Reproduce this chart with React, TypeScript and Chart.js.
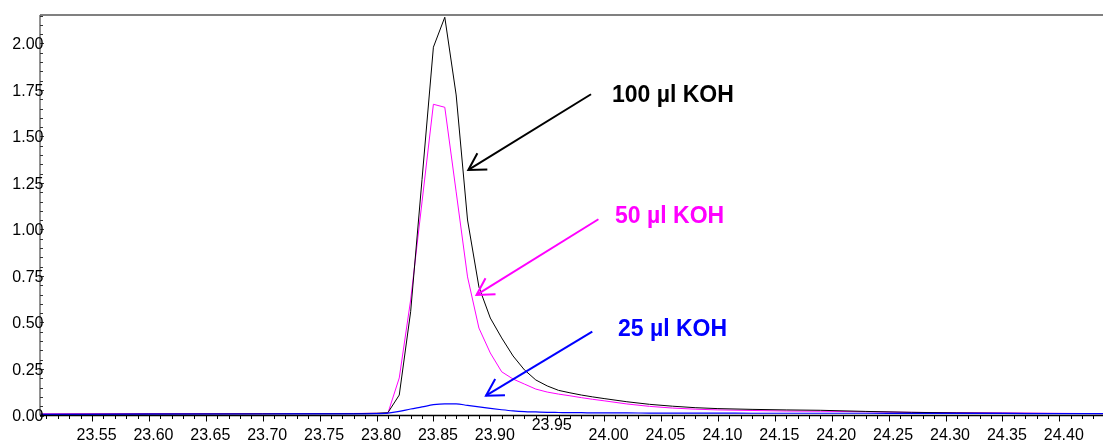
import React, { useEffect, useRef } from "react";
import { Chart, registerables } from "chart.js";

Chart.register(...registerables);

// Retention time (min)
const times = [
  23.5, 23.6, 23.7, 23.78, 23.8, 23.81, 23.82, 23.83, 23.84, 23.85, 23.86, 23.87,
  23.88, 23.89, 23.9, 23.91, 23.92, 23.93, 23.94, 23.95, 23.96, 23.97, 23.98, 23.99,
  24.0, 24.02, 24.04, 24.06, 24.08, 24.1, 24.13, 24.16, 24.19, 24.23, 24.27, 24.31,
  24.35, 24.39, 24.44,
];

const koh100 = [
  0.006, 0.008, 0.009, 0.01, 0.012, 0.015, 0.11, 0.558, 1.269, 1.98, 2.141, 1.723,
  1.051, 0.691, 0.524, 0.417, 0.32, 0.245, 0.191, 0.159, 0.135, 0.122, 0.11, 0.1,
  0.091, 0.074, 0.06, 0.05, 0.042, 0.037, 0.033, 0.03, 0.028, 0.022, 0.017, 0.014,
  0.012, 0.011, 0.01,
];

const koh50 = [
  0.009, 0.01, 0.01, 0.011, 0.012, 0.012, 0.202, 0.621, 1.148, 1.673, 1.657, 1.202,
  0.745, 0.47, 0.336, 0.235, 0.196, 0.169, 0.142, 0.126, 0.115, 0.106, 0.096, 0.087,
  0.079, 0.062, 0.049, 0.04, 0.034, 0.03, 0.027, 0.024, 0.023, 0.02, 0.017, 0.015,
  0.014, 0.012, 0.01,
];

const koh25 = [
  0.006, 0.007, 0.008, 0.009, 0.01, 0.013, 0.022, 0.035, 0.046, 0.058, 0.063, 0.063,
  0.054, 0.046, 0.038, 0.031, 0.025, 0.021, 0.019, 0.017, 0.016, 0.015, 0.015, 0.014,
  0.014, 0.014, 0.013, 0.013, 0.013, 0.013, 0.012, 0.012, 0.012, 0.012, 0.011, 0.011,
  0.011, 0.01, 0.01,
];

const xTickLabels = [
  "23.55", "23.60", "23.65", "23.70", "23.75", "23.80", "23.85", "23.90", "23.95",
  "24.00", "24.05", "24.10", "24.15", "24.20", "24.25", "24.30", "24.35", "24.40",
];
const yTickLabels = ["0.00", "0.25", "0.50", "0.75", "1.00", "1.25", "1.50", "1.75", "2.00"];

const seriesNames = ["100 µl KOH", "50 µl KOH", "25 µl KOH"];
const seriesColors = ["#000000", "#FF00FF", "#0000FF"];

// annotation anchors in data coordinates [time, value]
const labelAnchors = [
  [24.0069, 1.683],
  [24.0096, 1.033],
  [24.0122, 0.4274],
];
const arrowTails = [
  [23.9885, 1.727],
  [23.995, 1.055],
  [23.9896, 0.4505],
];
const arrowTips = [
  [23.8807, 1.32],
  [23.8879, 0.648],
  [23.8962, 0.1065],
];

const X_MIN = 23.5043;
const X_MAX = 24.4384;
const Y_MIN = 0;
const Y_MAX = 2.153;

const FONT = "'Liberation Sans', Arial, Helvetica, sans-serif";

const axesPlugin = {
  id: "customAxes",
  afterDatasetsDraw(chart: any) {
    const { ctx, chartArea, scales } = chart;
    const xs = scales.x;
    const ys = scales.y;
    const L = chartArea.left;
    const R = chartArea.right;
    const T = chartArea.top;
    const B = chartArea.bottom;
    ctx.save();

    // top border
    ctx.strokeStyle = "#808080";
    ctx.lineWidth = 2;
    ctx.beginPath();
    ctx.moveTo(L, T);
    ctx.lineTo(R, T);
    ctx.stroke();

    // left axis
    ctx.strokeStyle = "#6e6e6e";
    ctx.lineWidth = 1.5;
    ctx.beginPath();
    ctx.moveTo(L, T);
    ctx.lineTo(L, B);
    ctx.stroke();

    // bottom axis
    ctx.strokeStyle = "#000000";
    ctx.lineWidth = 1.5;
    ctx.beginPath();
    ctx.moveTo(L, B);
    ctx.lineTo(R, B);
    ctx.stroke();

    // x ticks (minor every 0.01, major every 0.05)
    ctx.strokeStyle = "#000000";
    ctx.lineWidth = 1;
    for (let k = 2351; k <= 2443; k++) {
      const v = k / 100;
      const px = Math.round(xs.getPixelForValue(v)) + 0.5;
      const major = k % 5 === 0;
      ctx.beginPath();
      ctx.moveTo(px, B);
      ctx.lineTo(px, B + (major ? 6 : 3.5));
      ctx.stroke();
    }
    // y ticks (inward)
    ctx.strokeStyle = "#333333";
    for (let k = 0; k <= 43; k++) {
      const v = k * 0.05;
      if (v > Y_MAX) break;
      const py = Math.round(ys.getPixelForValue(v)) + 0.5;
      const major = k % 5 === 0;
      ctx.beginPath();
      ctx.moveTo(L, py);
      ctx.lineTo(L + (major ? 4 : 3), py);
      ctx.stroke();
    }

    // x tick labels
    ctx.fillStyle = "#000000";
    ctx.font = `16px ${FONT}`;
    ctx.textAlign = "center";
    ctx.textBaseline = "alphabetic";
    xTickLabels.forEach((lab) => {
      const px = xs.getPixelForValue(parseFloat(lab)) + 4.5;
      const py = lab === "23.95" ? 430 : 440;
      ctx.fillText(lab, px, py);
    });

    // y tick labels
    ctx.textAlign = "right";
    yTickLabels.forEach((lab) => {
      const py = ys.getPixelForValue(parseFloat(lab));
      ctx.fillText(lab, L + 3.5, py + 5.7);
    });

    // annotations: arrows and labels
    seriesNames.forEach((name, i) => {
      const color = seriesColors[i];
      const tx = xs.getPixelForValue(arrowTails[i][0]);
      const ty = ys.getPixelForValue(arrowTails[i][1]);
      const hx = xs.getPixelForValue(arrowTips[i][0]);
      const hy = ys.getPixelForValue(arrowTips[i][1]);
      ctx.strokeStyle = color;
      ctx.lineWidth = 2;
      ctx.lineCap = "butt";
      ctx.beginPath();
      ctx.moveTo(tx, ty);
      ctx.lineTo(hx, hy);
      ctx.stroke();
      const ang = Math.atan2(ty - hy, tx - hx);
      const len = 19;
      const spread = Math.PI / 6;
      ctx.beginPath();
      ctx.moveTo(hx + len * Math.cos(ang + spread), hy + len * Math.sin(ang + spread));
      ctx.lineTo(hx, hy);
      ctx.lineTo(hx + len * Math.cos(ang - spread), hy + len * Math.sin(ang - spread));
      ctx.stroke();

      ctx.fillStyle = color;
      ctx.font = `bold 23px ${FONT}`;
      ctx.textAlign = "left";
      ctx.textBaseline = "alphabetic";
      ctx.fillText(
        name,
        xs.getPixelForValue(labelAnchors[i][0]),
        ys.getPixelForValue(labelAnchors[i][1])
      );
    });

    ctx.restore();
  },
};

export default function App() {
  const canvasRef = useRef<HTMLCanvasElement | null>(null);

  useEffect(() => {
    if (!canvasRef.current) return;
    const mk = (vals: number[]) => times.map((t, i) => ({ x: t, y: vals[i] }));
    const chart = new Chart(canvasRef.current, {
      type: "line",
      data: {
        datasets: [
          {
            label: seriesNames[2],
            data: mk(koh25),
            borderColor: seriesColors[2],
            borderWidth: 1.2,
            pointRadius: 0,
            cubicInterpolationMode: "monotone",
            fill: false,
          },
          {
            label: seriesNames[0],
            data: mk(koh100),
            borderColor: seriesColors[0],
            borderWidth: 1,
            pointRadius: 0,
            tension: 0,
            fill: false,
          },
          {
            label: seriesNames[1],
            data: mk(koh50),
            borderColor: seriesColors[1],
            borderWidth: 1,
            pointRadius: 0,
            tension: 0,
            fill: false,
          },
        ],
      },
      options: {
        animation: false,
        responsive: false,
        devicePixelRatio: 1,
        layout: { padding: { left: 40, right: 0, top: 15, bottom: 24.5 } },
        plugins: {
          legend: { display: false },
          tooltip: { enabled: false },
          title: { display: false },
        },
        scales: {
          x: { type: "linear", min: X_MIN, max: X_MAX, display: false },
          y: { type: "linear", min: Y_MIN, max: Y_MAX, display: false },
        },
      },
      plugins: [axesPlugin],
    } as any);
    return () => chart.destroy();
  }, []);

  return (
    <div style={{ position: "fixed", left: 0, top: 0, width: 1103, height: 440, background: "#fff" }}>
      <canvas ref={canvasRef} width={1103} height={440} style={{ display: "block" }} />
    </div>
  );
}
